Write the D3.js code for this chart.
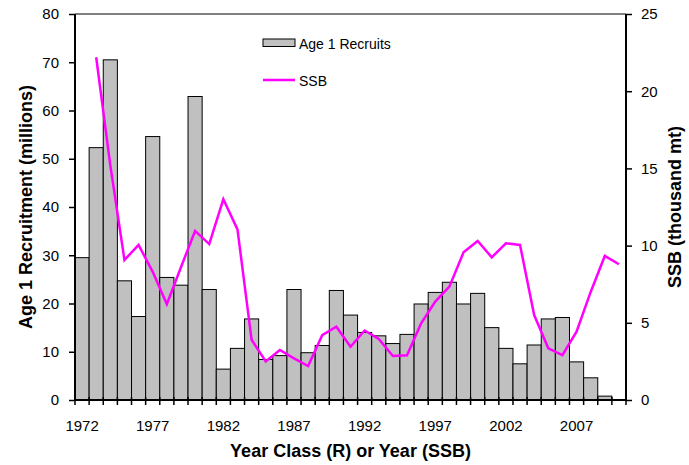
<!DOCTYPE html>
<html>
<head>
<meta charset="utf-8">
<script src="https://cdn.jsdelivr.net/npm/d3@7"></script>
<style>
  body { margin: 0; background: #fff; }
  text { font-family: "Liberation Sans", Arial, sans-serif; }
</style>
</head>
<body>
<div id="chart"></div>
<script>
// Age 1 recruits (millions) and SSB (thousand mt)

var years = d3.range(1972, 2011);
var recruits = [29.5, 52.3, 70.5, 24.7, 17.3, 54.6, 25.4, 23.8, 62.9, 22.9,
  6.4, 10.7, 16.8, 8.4, 9.2, 22.9, 9.8, 11.3, 22.7, 17.6,
  14.0, 13.3, 11.7, 13.6, 19.9, 22.3, 24.4, 19.9, 22.1, 15.0,
  10.7, 7.5, 11.4, 16.8, 17.1, 7.9, 4.6, 0.8, null];
var ssb = [null, 22.2, 15.2, 9.07, 10.04, 8.3, 6.2, 8.6, 10.95, 10.1,
  13.0, 11.05, 3.9, 2.5, 3.24, 2.7, 2.2, 4.2, 4.75, 3.45,
  4.5, 3.95, 2.85, 2.9, 4.97, 6.37, 7.34, 9.56, 10.3, 9.24,
  10.15, 10.04, 5.5, 3.35, 2.9, 4.42, 7.0, 9.33, 8.79];
var xTickYears = [1972, 1977, 1982, 1987, 1992, 1997, 2002, 2007];
var leftTicks = [0, 10, 20, 30, 40, 50, 60, 70, 80];
var rightTicks = [0, 5, 10, 15, 20, 25];

var svgWidth = 689, svgHeight = 465;
var margin = {top: 14, right: 63, bottom: 65, left: 75};
var width = svgWidth - margin.left - margin.right,
    height = svgHeight - margin.top - margin.bottom;

var svg = d3.select("#chart").append("svg")
  .attr("width", svgWidth)
  .attr("height", svgHeight);

var chart = svg.append("g")
  .attr("transform", "translate(" + margin.left + "," + margin.top + ")");

var xScale = d3.scaleBand()
  .domain(years)
  .range([0, width])
  .padding(0);

var yLeft = d3.scaleLinear().domain([0, 80]).range([height, 0]);
var yRight = d3.scaleLinear().domain([0, 25]).range([height, 0]);

// top border
chart.append("line")
  .attr("x1", 0).attr("x2", width)
  .attr("y1", 0).attr("y2", 0)
  .attr("stroke", "#000")
  .attr("stroke-width", 1);

// bars
var barData = years.map(function(y, i) { return {year: y, v: recruits[i]}; })
  .filter(function(d) { return d.v != null; });

chart.selectAll(".bar")
  .data(barData)
  .enter()
  .append("rect")
  .attr("class", "bar")
  .attr("x", d => xScale(d.year))
  .attr("y", d => yLeft(d.v))
  .attr("width", xScale.bandwidth())
  .attr("height", d => height - yLeft(d.v))
  .attr("fill", "#c0c0c0")
  .attr("stroke", "#000")
  .attr("stroke-width", 1);

// ssb line
var lineData = years.map(function(y, i) { return {year: y, v: ssb[i]}; })
  .filter(function(d) { return d.v != null; });

var line = d3.line()
  .x(d => xScale(d.year) + xScale.bandwidth() / 2)
  .y(d => yRight(d.v));

chart.append("path")
  .datum(lineData)
  .attr("d", line)
  .attr("fill", "none")
  .attr("stroke", "#ff00ff")
  .attr("stroke-width", 2.5)
  .attr("stroke-linejoin", "miter");

// axes
var leftAxis = d3.axisLeft(yLeft).tickValues(leftTicks).tickSize(6).tickPadding(10);
var rightAxis = d3.axisRight(yRight).tickValues(rightTicks).tickSize(6).tickPadding(9);

var gl = chart.append("g").call(leftAxis);
var gr = chart.append("g").attr("transform", "translate(" + width + ",0)").call(rightAxis);

[gl, gr].forEach(function(g) {
  g.select(".domain").attr("stroke-width", 2).attr("d", function() {
    return "M0,0V" + height;
  });
  g.selectAll(".tick line").attr("stroke-width", 1.5);
  g.selectAll("text").attr("font-size", "15px").attr("fill", "#000")
    .style("font-family", "'Liberation Sans', Arial, sans-serif");
});

// x axis: ticks at band boundaries
var gx = chart.append("g").attr("transform", "translate(0," + height + ")");
gx.append("line")
  .attr("x1", 0).attr("x2", width)
  .attr("stroke", "#000").attr("stroke-width", 2);
gx.selectAll(".xtick")
  .data(years.concat([2011]))
  .enter()
  .append("line")
  .attr("x1", d => d === 2011 ? width : xScale(d))
  .attr("x2", d => d === 2011 ? width : xScale(d))
  .attr("y1", -3).attr("y2", 5)
  .attr("stroke", "#000").attr("stroke-width", 1.5);
gx.selectAll(".xlabel")
  .data(xTickYears)
  .enter()
  .append("text")
  .attr("x", d => xScale(d) + xScale.bandwidth() / 2)
  .attr("y", 31)
  .attr("text-anchor", "middle")
  .attr("font-size", "15px")
  .text(d => d);

// axis titles
svg.append("text")
  .attr("transform", "translate(32," + (margin.top + height / 2) + ") rotate(-90)")
  .attr("text-anchor", "middle")
  .attr("font-size", "18px")
  .attr("font-weight", "bold")
  .text("Age 1 Recruitment (millions)");

svg.append("text")
  .attr("transform", "translate(681," + (margin.top + height / 2) + ") rotate(-90)")
  .attr("text-anchor", "middle")
  .attr("font-size", "18px")
  .attr("font-weight", "bold")
  .text("SSB (thousand mt)");

svg.append("text")
  .attr("x", margin.left + width / 2)
  .attr("y", 457)
  .attr("text-anchor", "middle")
  .attr("font-size", "18px")
  .attr("font-weight", "bold")
  .text("Year Class (R) or Year (SSB)");

// legend
var legend = svg.append("g");
legend.append("rect")
  .attr("x", 263).attr("y", 39)
  .attr("width", 32).attr("height", 7.5)
  .attr("fill", "#c0c0c0").attr("stroke", "#000").attr("stroke-width", 1);
legend.append("text")
  .attr("x", 299).attr("y", 48.5)
  .attr("font-size", "14px")
  .text("Age 1 Recruits");
legend.append("line")
  .attr("x1", 263).attr("x2", 295)
  .attr("y1", 80).attr("y2", 80)
  .attr("stroke", "#ff00ff").attr("stroke-width", 2.5);
legend.append("text")
  .attr("x", 299).attr("y", 86)
  .attr("font-size", "14px")
  .text("SSB");
</script>
</body>
</html>
